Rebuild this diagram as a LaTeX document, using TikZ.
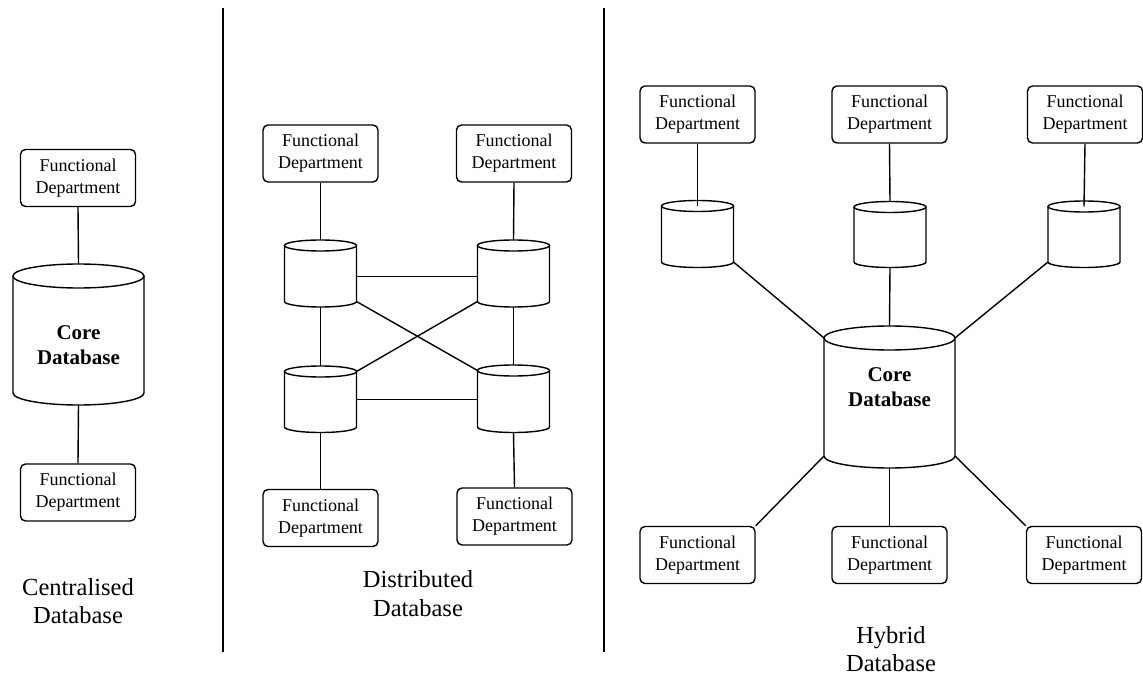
\documentclass[tikz,border=0pt]{standalone}
\usepackage{fontspec}
\setmainfont{Liberation Serif}
\usetikzlibrary{calc}

% Database drum: name, centre x, y of top ellipse centre, y of bottom ellipse centre, x radius, y radius
\newcommand\dbstore[6]{%
  \pgfmathsetmacro\dbw{2*#5}%
  \pgfmathsetmacro\dbh{#4-#3}%
  \node[dbbody, minimum width=\dbw pt, minimum height=\dbh pt] (#1) at (#2,{(#3+#4)/2}) {};
  \draw (#2-#5,#3) -- (#2-#5,#4) arc[start angle=180, end angle=0, x radius=#5, y radius=#6] -- (#2+#5,#3);
  \draw (#2,#3) ellipse[x radius=#5, y radius=#6];
  \coordinate (#1-top) at (#2,#3-#6);
  \coordinate (#1-bot) at (#2,#4+#6);
}

\begin{document}
\begin{tikzpicture}[x=1pt, y=-1pt, line width=1.4pt,
  dept/.style={draw, rounded corners=5pt, minimum width=115pt, minimum height=57pt,
    inner sep=0pt, align=center, font=\fontsize{18}{22}\selectfont},
  dbbody/.style={inner sep=0pt, outer sep=0pt},
  caption/.style={align=center, font=\fontsize{24.5}{28.5}\selectfont},
  coretext/.style={align=center, font=\bfseries\fontsize{21}{25}\selectfont}]

\useasboundingbox (0,0) rectangle (1143,676);

% column dividers
\coordinate (d1t) at (223,8);
\coordinate (d1b) at (223,652);
\coordinate (d2t) at (604,8);
\coordinate (d2b) at (604,652);
\draw (d1t) -- (d1b);
\draw (d2t) -- (d2b);

% ---- centralised ----
\node[dept] (cfa) at (78,178) {Functional\\Department};
\node[dept] (cfb) at (78,492.5) {Functional\\Department};
\dbstore{ccore}{78.5}{276}{393}{65.5}{12}
\node[coretext] (cct) at (78.5,345) {Core\\Database};
\draw (cfa.south) -- (ccore-top);
\draw (ccore-bot) -- (cfb.north);
\node[caption] (ccap) at (78,601) {Centralised\\Database};

% ---- distributed ----
\node[dept] (dfa) at (320.5,153.5) {Functional\\Department};
\node[dept] (dfb) at (514,153.5) {Functional\\Department};
\node[dept] (dfc) at (320.5,518) {Functional\\Department};
\node[dept] (dfd) at (514.5,516.5) {Functional\\Department};
\dbstore{dtl}{320.5}{245.5}{301.5}{36}{5.5}
\dbstore{dtr}{513.5}{245.5}{301.5}{36}{5.5}
\dbstore{dbl}{320.5}{371.5}{427}{36}{5.5}
\dbstore{dbr}{513.5}{370.5}{427}{36}{5.5}
\draw (dfa.south) -- (dtl-top);
\draw (dfb.south) -- (dtr-top);
\draw (dbl-bot) -- (dfc.north);
\draw (dbr-bot) -- (dfd.north);
\draw (dtl-bot) -- (dbl-top);
\draw (dtr-bot) -- (dbr-top);
\draw ([yshift=-3pt]dtl.east) -- ([yshift=-3pt]dtl.east -| dtr.west);
\draw (dbl.east) -- (dbl.east -| dbr.west);
\draw (dtl.south east) -- (dbr.north west);
\draw (dtr.south west) -- (dbl.north east);
\node[caption] (dcap) at (418,593.5) {Distributed\\Database};

% ---- hybrid ----
\node[dept] (hfa) at (697.5,114.5) {Functional\\Department};
\node[dept] (hfb) at (889.5,114.5) {Functional\\Department};
\node[dept] (hfc) at (1085,114.5) {Functional\\Department};
\node[dept] (hfd) at (697.5,555) {Functional\\Department};
\node[dept] (hfe) at (889.5,555) {Functional\\Department};
\node[dept] (hff) at (1084,555) {Functional\\Department};
\dbstore{hla}{697.5}{206}{262}{36}{5.5}
\dbstore{hlb}{890}{207}{262}{36}{5.5}
\dbstore{hlc}{1084}{206.5}{262}{36}{5.5}
\dbstore{hcore}{889.5}{338}{456}{65.5}{12}
\node[coretext] (hct) at (889.5,387) {Core\\Database};
\draw (hfa.south) -- (hla.north);
\draw (hfb.south) -- (hlb-top);
\draw (hfc.south) -- (hlc.north);
\draw (hla.south east) -- (hcore.north west);
\draw (hlb-bot) -- (hcore-top);
\draw (hlc.south west) -- (hcore.north east);
\draw (hcore.south west) -- (hfd.north east);
\draw (hcore-bot) -- (hfe.north);
\draw (hcore.south east) -- (hff.north west);
\node[caption] (hcap) at (891,649) {Hybrid\\Database};

\end{tikzpicture}
\end{document}
